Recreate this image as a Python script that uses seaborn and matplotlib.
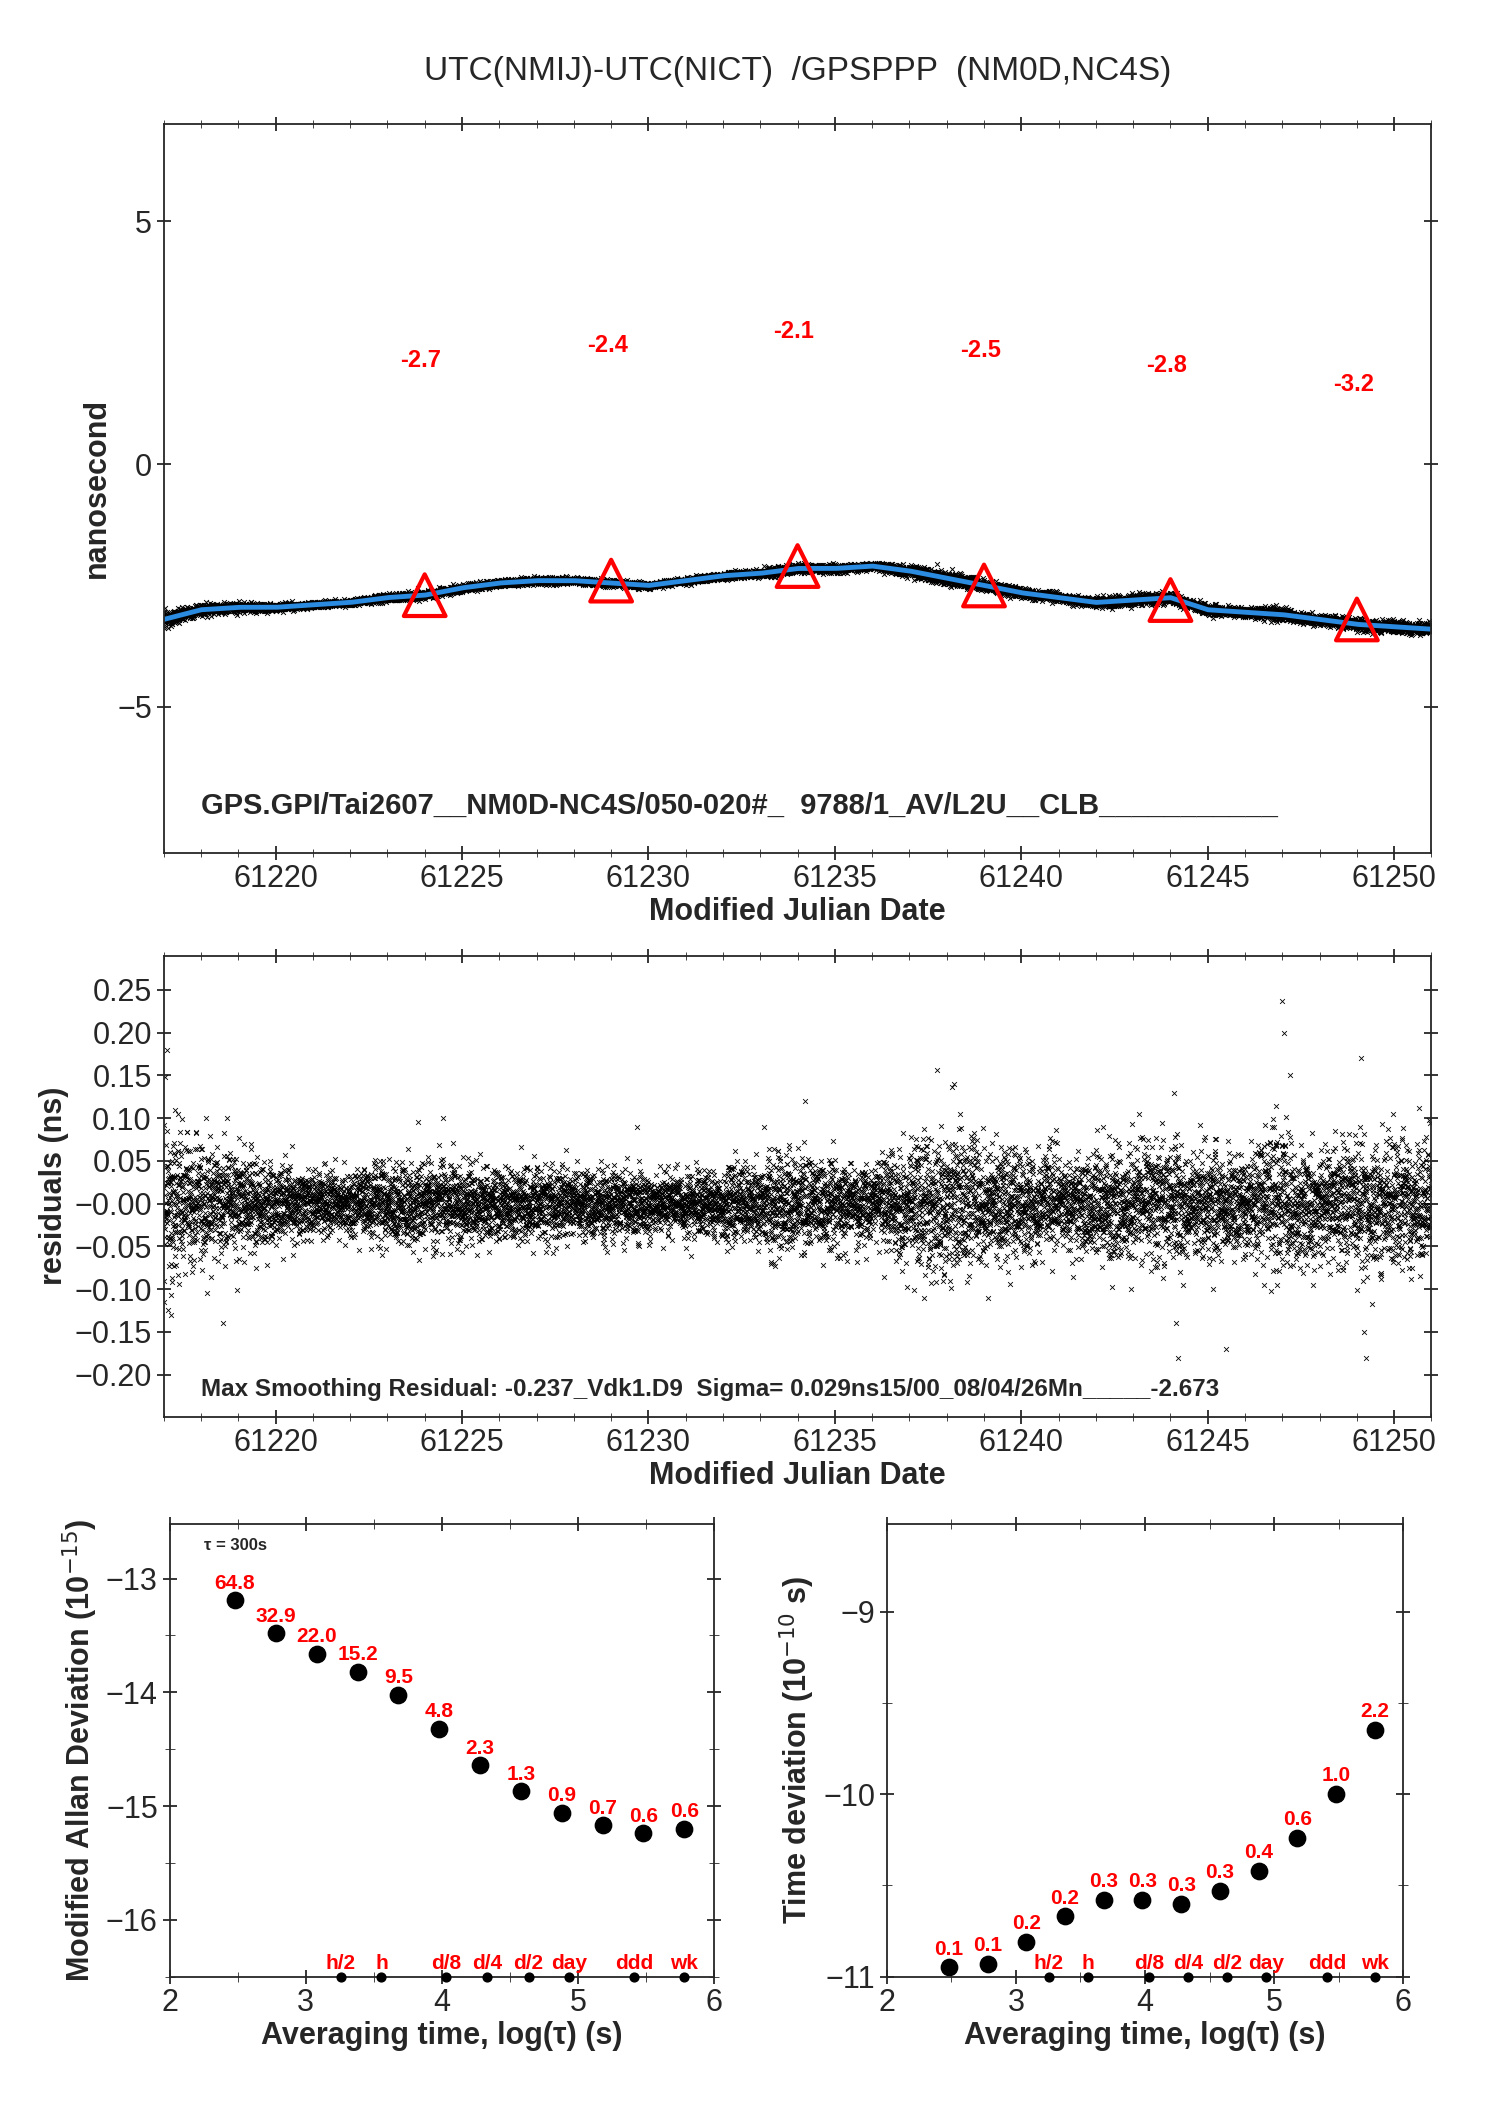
import matplotlib
matplotlib.use("Agg")
import matplotlib.pyplot as plt
import numpy as np
import seaborn as sns

sns.set_style("ticks")
plt.rcParams['font.family'] = ['Liberation Sans', 'DejaVu Sans']

# Smoothed clock difference, one value per day (ns)
mjd_days = np.arange(61217, 61252)
smooth_ns = [-3.2, -3.0, -2.95, -2.95, -2.9, -2.85, -2.75, -2.7, -2.55, -2.45, -2.4, -2.4,
             -2.45, -2.5, -2.4, -2.3, -2.25, -2.15, -2.15, -2.1, -2.2, -2.35, -2.5, -2.65,
             -2.75, -2.85, -2.8, -2.75, -3.0, -3.05, -3.1, -3.2, -3.3, -3.35, -3.4]
# residual spread (ns) per day
resid_sigma = [0.045, 0.035, 0.03, 0.022, 0.02, 0.02, 0.022, 0.025, 0.022, 0.02, 0.02, 0.02,
               0.02, 0.018, 0.018, 0.02, 0.025, 0.028, 0.025, 0.022, 0.035, 0.04, 0.035, 0.03,
               0.028, 0.03, 0.035, 0.035, 0.03, 0.03, 0.04, 0.03, 0.04, 0.035, 0.035]
# isolated residual outliers (mjd, ns)
outlier_mjd = [61217.1, 61217.2, 61217.3, 61218.6, 61218.7, 61224.5, 61229.7, 61234.2,
               61237.4, 61238.2, 61239.1, 61244.1, 61244.15, 61244.2, 61245.5, 61247.0,
               61247.05, 61247.2, 61249.1, 61249.2, 61249.25]
outlier_ns = [0.18, -0.13, 0.11, -0.14, 0.10, 0.10, 0.09, 0.12, -0.11, 0.14, -0.11, 0.13,
              -0.14, -0.18, -0.17, 0.237, 0.20, 0.15, 0.17, -0.15, -0.18]

tri_mjd = [61224, 61229, 61234, 61239, 61244, 61249]
tri_ns = [-2.7, -2.4, -2.1, -2.5, -2.8, -3.2]

# stability
log_tau = [2.48, 2.78, 3.08, 3.38, 3.68, 3.98, 4.28, 4.58, 4.88, 5.18, 5.48, 5.78]
mdev_log = [-13.19, -13.48, -13.66, -13.82, -14.02, -14.32, -14.64, -14.87, -15.06, -15.17, -15.24, -15.20]
mdev_lab = ["64.8", "32.9", "22.0", "15.2", "9.5", "4.8", "2.3", "1.3", "0.9", "0.7", "0.6", "0.6"]
tdev_log = [-10.95, -10.93, -10.81, -10.67, -10.58, -10.58, -10.60, -10.53, -10.42, -10.24, -10.0, -9.65]
tdev_lab = ["0.1", "0.1", "0.2", "0.2", "0.3", "0.3", "0.3", "0.3", "0.4", "0.6", "1.0", "2.2"]
mark_log = [3.255, 3.556, 4.033, 4.334, 4.636, 4.936, 5.41, 5.78]
mark_lab = ["h/2", "h", "d/8", "d/4", "d/2", "day", "ddd", "wk"]

# sample times every 300 s; residual cloud scaled by the read spread
t = np.arange(61217.0, 61251.0, 300 / 86400)
rng = np.random.default_rng(3)
resid = rng.standard_normal(t.size) * np.interp(t, mjd_days, resid_sigma)
curve = np.interp(t, mjd_days, smooth_ns)

fig = plt.figure(figsize=(14.88, 21.05), dpi=100)
fs = 22

def style(ax):
    ax.tick_params(direction='inout', length=10, width=1.3, labelsize=fs, top=True, right=True)
    for s in ax.spines.values():
        s.set_linewidth(1.3)

# top panel
ax1 = fig.add_axes([0.110, 0.595, 0.852, 0.346])
ax1.scatter(t, curve + 1.6 * resid, marker='x', s=12, color='black', linewidths=0.7)
sns.lineplot(x=t, y=curve, ax=ax1, color='#2a8be0', lw=3.5)
ax1.scatter(tri_mjd, tri_ns, marker='^', s=900, facecolors='none', edgecolors='red', linewidths=3, zorder=5)
for x, v in zip(tri_mjd, tri_ns):
    ax1.text(x - 0.1, v + 4.7, f"{v}", color='red', fontsize=17, fontweight='bold', ha='center')
ax1.set_xlim(61217, 61251)
ax1.set_ylim(-8, 7)
ax1.set_yticks([-5, 0, 5])
ax1.set_yticklabels(['\u22125', '0', '5'])
ax1.set_xticks(range(61220, 61251, 5))
ax1.set_xticks(range(61217, 61252), minor=True)
ax1.tick_params(which='minor', direction='inout', length=6, top=True)
ax1.set_xlabel('Modified Julian Date', fontsize=fs, fontweight='bold', labelpad=2)
ax1.set_ylabel('nanosecond', fontsize=fs, fontweight='bold')
ax1.text(61218, -7.2, 'GPS.GPI/Tai2607__NM0D-NC4S/050-020#_  9788/1_AV/L2U__CLB___________',
         fontsize=21, fontweight='bold')
style(ax1)
fig.text(0.536, 0.962, 'UTC(NMIJ)-UTC(NICT)  /GPSPPP  (NM0D,NC4S)', fontsize=24, ha='center')

# residual panel
ax2 = fig.add_axes([0.110, 0.327, 0.852, 0.219])
ax2.scatter(t, resid, marker='x', s=12, color='black', linewidths=0.6)
ax2.scatter(outlier_mjd, outlier_ns, marker='x', s=12, color='black', linewidths=0.6)
ax2.set_xlim(61217, 61251)
ax2.set_ylim(-0.249, 0.29)
yt = np.round(np.arange(-0.20, 0.26, 0.05), 2)
ax2.set_yticks(yt)
ax2.set_yticklabels([f"{v:.2f}".replace('-', '\u2212') for v in yt])
ax2.set_xticks(range(61220, 61251, 5))
ax2.set_xticks(range(61217, 61252), minor=True)
ax2.tick_params(which='minor', direction='inout', length=6, top=True)
ax2.set_xlabel('Modified Julian Date', fontsize=fs, fontweight='bold', labelpad=2)
ax2.set_ylabel('residuals (ns)', fontsize=fs, fontweight='bold')
ax2.text(61218, -0.225, 'Max Smoothing Residual: -0.237_Vdk1.D9  Sigma= 0.029ns15/00_08/04/26Mn_____-2.673',
         fontsize=17.5, fontweight='bold')
style(ax2)

def stab(ax, vals, labs, ylim, yt, ylabel, lab_off):
    sns.scatterplot(x=log_tau, y=vals, ax=ax, color='black', s=140, edgecolor='black')
    for x, v, l in zip(log_tau, vals, labs):
        ax.text(x, v + lab_off, l, color='red', fontsize=15, fontweight='bold', ha='center')
    ax.scatter(mark_log, [ylim[0]] * len(mark_log), color='black', s=40, clip_on=False, zorder=4)
    for x, l in zip(mark_log, mark_lab):
        ax.text(x, ylim[0] + 0.07 * (ylim[1] - ylim[0]) / 4, l, color='red', fontsize=15,
                fontweight='bold', ha='center')
    ax.set_xlim(2, 6)
    ax.set_ylim(*ylim)
    ax.set_xticks([2, 3, 4, 5, 6])
    ax.set_xticks(np.arange(2, 6.01, 0.5), minor=True)
    ax.set_yticks(yt)
    ax.set_yticklabels([f"{v}".replace('-', '\u2212') for v in yt])
    ax.set_yticks(np.arange(np.ceil(ylim[0] * 2) / 2, ylim[1], 0.5), minor=True)
    ax.tick_params(which='minor', direction='inout', length=7, top=True, right=True)
    ax.set_xlabel('Averaging time, log(\u03c4) (s)', fontsize=fs, fontweight='bold', labelpad=2)
    ax.set_ylabel(ylabel, fontsize=fs, fontweight='bold')
    style(ax)

ax3 = fig.add_axes([0.114, 0.061, 0.366, 0.215])
stab(ax3, mdev_log, mdev_lab, (-16.5, -12.52), [-16, -15, -14, -13],
     'Modified Allan Deviation (10$^{-15}$)', 0.1)
ax3.text(2.25, -12.75, '\u03c4 = 300s', fontsize=12, fontweight='bold')

ax4 = fig.add_axes([0.596, 0.061, 0.347, 0.215])
stab(ax4, tdev_log, tdev_lab, (-11.0, -8.52), [-11, -10, -9],
     'Time deviation (10$^{-10}$ s)', 0.07)

fig.savefig('out.png', dpi=100)
